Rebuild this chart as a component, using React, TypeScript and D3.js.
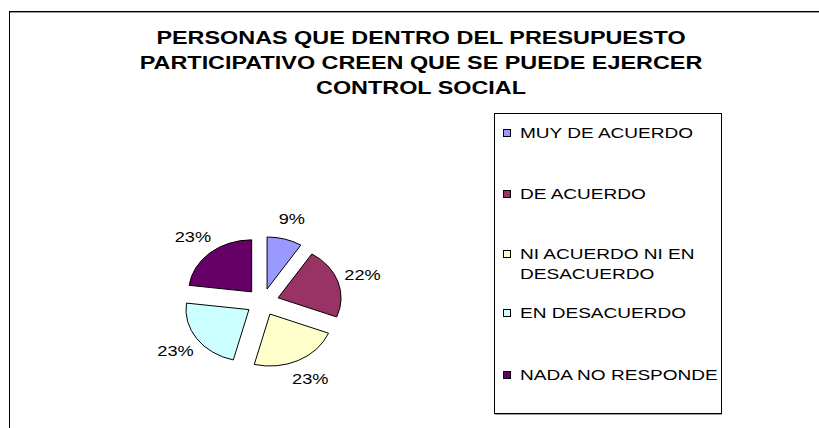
import React from "react";
import * as d3 from "d3";

const titleLines = [
  "PERSONAS QUE DENTRO DEL PRESUPUESTO",
  "PARTICIPATIVO CREEN QUE SE PUEDE EJERCER",
  "CONTROL SOCIAL",
];
const categories = [
  "MUY DE ACUERDO",
  "DE ACUERDO",
  "NI ACUERDO NI EN DESACUERDO",
  "EN DESACUERDO",
  "NADA NO RESPONDE",
];
const legendLines = [
  ["MUY DE ACUERDO"],
  ["DE ACUERDO"],
  ["NI ACUERDO NI EN", "DESACUERDO"],
  ["EN DESACUERDO"],
  ["NADA NO RESPONDE"],
];
const values = [9, 22, 23, 23, 23];
const colors = ["#9999FF", "#993366", "#FFFFCC", "#CCFFFF", "#660066"];

const W = 819;
const H = 428;
const FONT = "'Liberation Sans', Arial, Helvetica, sans-serif";

export default function App() {
  const cx = 262.5;
  const cy = 302;
  const rx = 63;
  const ry = 52;
  const explode = 0.26;
  const labelR = 1.67;

  const pie = d3
    .pie<number>()
    .sort(null)
    .value((d) => d)
    .startAngle(0)
    .endAngle(2 * Math.PI);
  const arcs = pie(values);
  const arc = d3.arc<d3.PieArcDatum<number>>().innerRadius(0).outerRadius(100);

  const legendBaselines = [138, 199, 259, 279, 318, 380];
  let li = 0;

  return (
    <svg
      width={W}
      height={H}
      style={{ position: "absolute", left: 0, top: 0, background: "#fff" }}
      fontFamily={FONT}
    >
      <rect x={0} y={0} width={W} height={H} fill="#fff" />
      {/* outer chart border */}
      <rect x={9.5} y={11.5} width={W + 20} height={H + 20} fill="none" stroke="#000" strokeWidth={1} />
      <line x1={10} x2={W} y1={12.5} y2={12.5} stroke="#999" strokeWidth={1} />

      {/* title */}
      {titleLines.map((t, i) => (
        <text
          key={i}
          transform={`translate(421, ${44 + i * 25}) scale(1.3,1)`}
          textAnchor="middle"
          fontWeight="bold"
          fontSize={18}
          fill="#000"
        >
          {t}
        </text>
      ))}

      {/* pie */}
      <g transform={`translate(${cx},${cy}) scale(${rx / 100},${ry / 100})`}>
        {arcs.map((a, i) => {
          const mid = (a.startAngle + a.endAngle) / 2;
          const dx = explode * 100 * Math.sin(mid);
          const dy = -explode * 100 * Math.cos(mid);
          return (
            <path
              key={i}
              d={arc(a) || ""}
              transform={`translate(${dx},${dy})`}
              fill={colors[i]}
              stroke="#000"
              strokeWidth={1}
              vectorEffect="non-scaling-stroke"
            />
          );
        })}
      </g>
      {arcs.map((a, i) => {
        const mid = (a.startAngle + a.endAngle) / 2;
        const x = cx + labelR * rx * Math.sin(mid);
        const y = cy - labelR * ry * Math.cos(mid);
        const total = d3.sum(values);
        return (
          <text
            key={i}
            transform={`translate(${x},${y + 5}) scale(1.3,1)`}
            textAnchor="middle"
            fontSize={14}
            fill="#000"
          >
            {`${Math.round((a.data / total) * 100)}%`}
          </text>
        );
      })}

      {/* legend */}
      <rect x={494.5} y={113.5} width={227} height={300} fill="#fff" stroke="#000" strokeWidth={1} />
      <line x1={495} x2={722} y1={414.5} y2={414.5} stroke="#999" strokeWidth={1} />
      {categories.map((c, i) => {
        const lines = legendLines[i];
        const first = legendBaselines[li];
        const els = lines.map((ln, j) => {
          const b = legendBaselines[li + j];
          return (
            <text
              key={j}
              transform={`translate(520, ${b}) scale(1.36,1)`}
              fontSize={14}
              fill="#000"
            >
              {ln}
            </text>
          );
        });
        li += lines.length;
        return (
          <g key={c}>
            <rect
              x={503.5}
              y={first - 8.5}
              width={7}
              height={7}
              fill={colors[i]}
              stroke="#000"
              strokeWidth={1}
            />
            {els}
          </g>
        );
      })}
    </svg>
  );
}
